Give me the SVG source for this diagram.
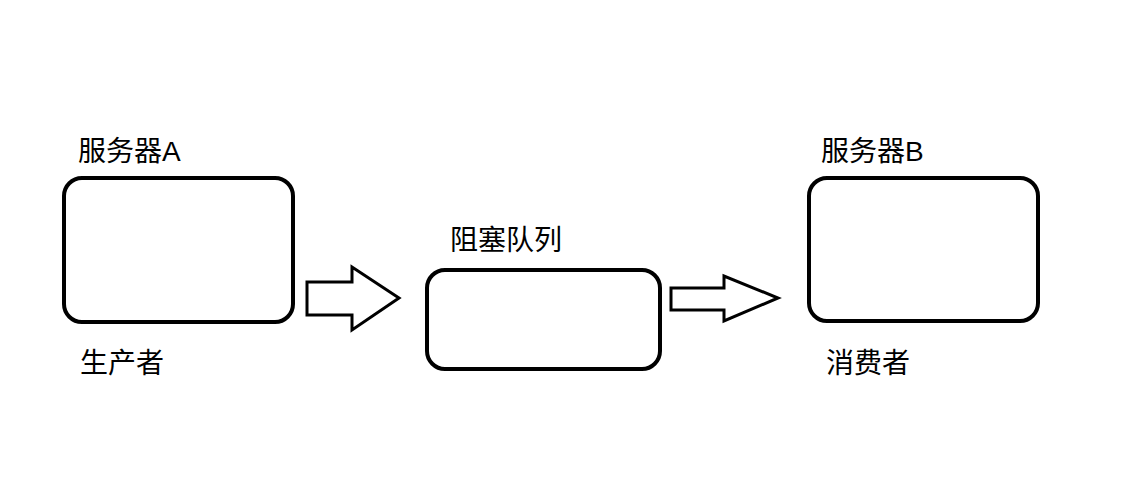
<svg xmlns="http://www.w3.org/2000/svg" width="1128" height="485" viewBox="0 0 1128 485">
<style>
.box{fill:#fff;stroke:#000;stroke-width:4}
.arr{fill:#fff;stroke:#000;stroke-width:3;stroke-linejoin:miter}
text{font-family:"Liberation Sans","Noto Sans CJK SC",sans-serif;font-size:28px;fill:#000}
</style>
<rect width="1128" height="485" fill="#fff"/>
<g id="serverA"><rect class="box" x="64" y="178" width="229" height="144" rx="18"/><text x="78" y="161">服务器A</text><text x="80" y="373">生产者</text></g>
<g id="queue"><rect class="box" x="427" y="270" width="233" height="99" rx="18"/><text x="450" y="250">阻塞队列</text></g>
<g id="serverB"><rect class="box" x="809" y="178" width="229" height="143" rx="18"/><text x="821" y="161">服务器B</text><text x="826" y="373">消费者</text></g>
<g id="connectors">
<polygon class="arr" points="307,282 352,282 352,267 399,298 352,330 352,315 307,315"/>
<polygon class="arr" points="671,288 724,288 724,276 778,298 724,321 724,310 671,310"/>
</g>
</svg>
